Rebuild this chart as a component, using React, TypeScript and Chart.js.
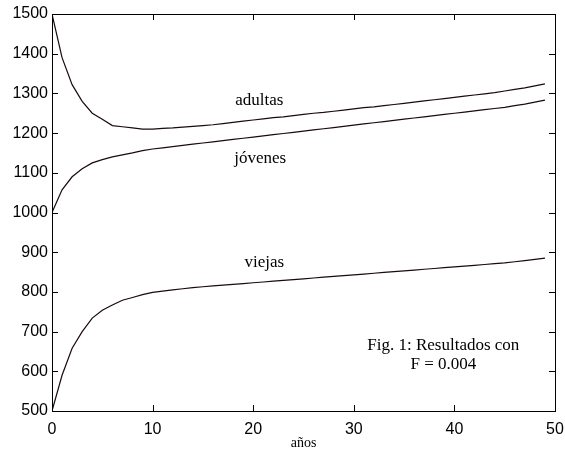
import React, { useEffect, useRef } from "react";
import { Chart, registerables } from "chart.js";

Chart.register(...registerables);

const years = Array.from({ length: 50 }, (_, i) => i);

const adultas = [
  1500, 1390, 1322, 1280, 1250, 1235, 1219, 1216, 1213, 1210,
  1210, 1212, 1213, 1215, 1217, 1219, 1221, 1224, 1227, 1230,
  1233, 1236, 1239, 1241, 1244, 1247, 1250, 1252, 1255, 1258,
  1261, 1264, 1266, 1269, 1272, 1275, 1278, 1281, 1284, 1287,
  1290, 1293, 1296, 1299, 1302, 1306, 1310, 1314, 1319, 1324,
];

const jovenes = [
  1000, 1057, 1090, 1110, 1125, 1133, 1140, 1145, 1150, 1156,
  1160, 1163, 1166, 1169, 1172, 1175, 1178, 1181, 1184, 1187,
  1190, 1193, 1196, 1199, 1202, 1205, 1208, 1211, 1214, 1217,
  1220, 1223, 1226, 1229, 1232, 1235, 1238, 1241, 1244, 1247,
  1250, 1253, 1256, 1259, 1262, 1265, 1269, 1273, 1278, 1283,
];

const viejas = [
  500, 590, 658, 700, 734, 754, 767, 779, 786, 793,
  799, 802, 805, 808, 811, 813, 815, 817, 819, 821,
  823, 825, 827, 829, 831, 833, 835, 837, 839, 841,
  843, 845, 847, 849, 851, 853, 855, 857, 859, 861,
  863, 865, 867, 869, 871, 873, 876, 879, 882, 885,
];

const yTicks = [500, 600, 700, 800, 900, 1000, 1100, 1200, 1300, 1400, 1500];
const xTicks = [0, 10, 20, 30, 40, 50];

const noteTexts = ["adultas", "jóvenes", "viejas", "Fig. 1: Resultados con", "F = 0.004"];
const noteX = [20.6, 20.7, 21.1, 38.9, 38.9];
const noteY = [1282, 1136, 874, 666, 618];

const xTitle = "años";

export default function App() {
  const ref = useRef<HTMLCanvasElement | null>(null);

  useEffect(() => {
    if (!ref.current) return;
    const lineStyle = {
      borderColor: "#1a0a0a",
      borderWidth: 1.2,
      pointRadius: 0,
      tension: 0,
      fill: false,
    };
    const framePlugin = {
      id: "frame",
      afterDraw(chart: any) {
        const { ctx, chartArea } = chart;
        const { left, right, top, bottom } = chartArea;
        const xs = chart.scales.x;
        const ys = chart.scales.y;
        ctx.save();
        ctx.strokeStyle = "#000";
        ctx.lineWidth = 1;
        ctx.strokeRect(Math.round(left) + 0.5, Math.round(top) + 0.5, Math.round(right - left), Math.round(bottom - top));
        const tl = 6;
        ctx.beginPath();
        xTicks.forEach((v) => {
          const px = Math.round(xs.getPixelForValue(v)) + 0.5;
          ctx.moveTo(px, bottom);
          ctx.lineTo(px, bottom - tl);
          ctx.moveTo(px, top);
          ctx.lineTo(px, top + tl);
        });
        yTicks.forEach((v) => {
          const py = Math.round(ys.getPixelForValue(v)) + 0.5;
          ctx.moveTo(left, py);
          ctx.lineTo(left + tl, py);
          ctx.moveTo(right, py);
          ctx.lineTo(right - tl, py);
        });
        ctx.stroke();
        ctx.fillStyle = "#000";
        ctx.font = "17px 'Liberation Serif', 'Times New Roman', serif";
        ctx.textAlign = "center";
        ctx.textBaseline = "middle";
        noteTexts.forEach((t, i) => {
          ctx.fillText(t, xs.getPixelForValue(noteX[i]), ys.getPixelForValue(noteY[i]));
        });
        ctx.restore();
      },
    };
    const chart = new Chart(ref.current, {
      type: "line",
      data: {
        datasets: [
          { label: "adultas", data: years.map((x, i) => ({ x, y: adultas[i] })), ...lineStyle },
          { label: "jóvenes", data: years.map((x, i) => ({ x, y: jovenes[i] })), ...lineStyle },
          { label: "viejas", data: years.map((x, i) => ({ x, y: viejas[i] })), ...lineStyle },
        ],
      },
      options: {
        animation: false,
        responsive: false,
        devicePixelRatio: 1,
        layout: { padding: { left: 0, top: 14, right: 10, bottom: 0 } },
        plugins: { legend: { display: false }, tooltip: { enabled: false } },
        scales: {
          x: {
            type: "linear",
            min: 0,
            max: 50,
            grid: { display: false, drawTicks: false },
            border: { display: false },
            ticks: {
              stepSize: 10,
              padding: 9,
              color: "#000",
              maxRotation: 0,
              callback: (v: any) => String(v),
              font: { family: "'Liberation Sans', Arial, sans-serif", size: 16 },
            },
            title: {
              display: true,
              text: xTitle,
              color: "#000",
              padding: { top: 0, bottom: 4 },
              font: { family: "'Liberation Serif', 'Times New Roman', serif", size: 14 },
            },
            afterFit: (s: any) => {
              s.height = 45;
              s.paddingLeft = 0;
              s.paddingRight = 0;
            },
          },
          y: {
            type: "linear",
            min: 500,
            max: 1500,
            grid: { display: false, drawTicks: false },
            border: { display: false },
            ticks: {
              stepSize: 100,
              padding: 4,
              color: "#000",
              callback: (v: any) => String(v),
              font: { family: "'Liberation Sans', Arial, sans-serif", size: 16 },
            },
            afterFit: (s: any) => {
              s.width = 52;
              s.paddingTop = 0;
              s.paddingBottom = 0;
            },
          },
        },
      },
      plugins: [framePlugin],
    });
    return () => chart.destroy();
  }, []);

  return (
    <div style={{ position: "fixed", left: 0, top: 0, width: 565, height: 456, background: "#fff" }}>
      <canvas ref={ref} width={565} height={456} />
    </div>
  );
}
